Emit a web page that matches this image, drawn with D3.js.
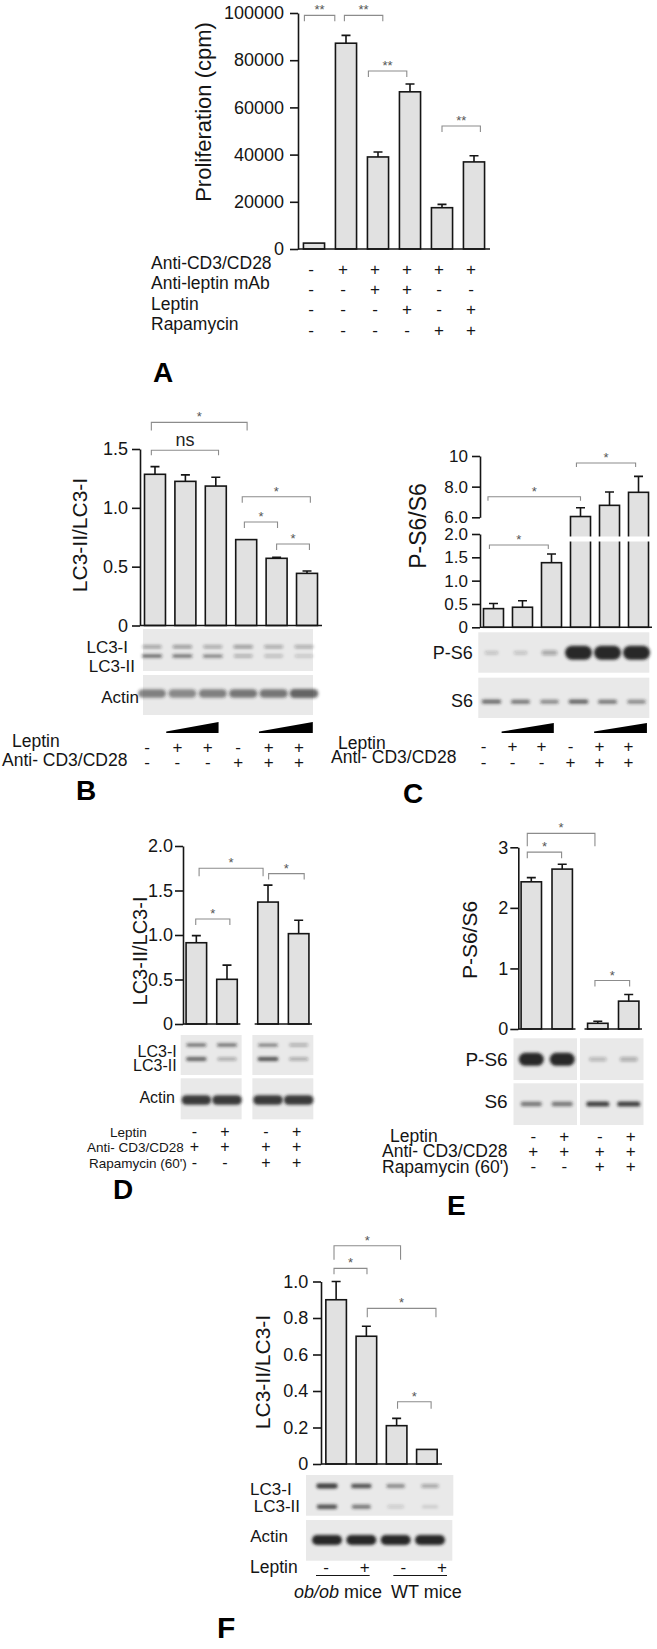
<!DOCTYPE html>
<html>
<head>
<meta charset="utf-8">
<script src="https://cdn.jsdelivr.net/npm/d3@7"></script>
<style>
  body { margin: 0; background: #fff; }
  svg { display: block; }
</style>
</head>
<body>
<script>
// ---------- values ----------

// A: proliferation (cpm)
var aValues = [2500, 87200, 39000, 66600, 17500, 36900];
var aErrors = [0, 3300, 2100, 3300, 1400, 2600];
var aTicks = [0, 20000, 40000, 60000, 80000, 100000];
var aRowLabels = ["Anti-CD3/CD28", "Anti-leptin mAb", "Leptin", "Rapamycin"];
var aRows = [
  ["-", "+", "+", "+", "+", "+"],
  ["-", "-", "+", "+", "-", "-"],
  ["-", "-", "-", "+", "-", "+"],
  ["-", "-", "-", "-", "+", "+"]
];
// brackets: [from lane, to lane, height in axis units, label]
var aBrackets = [[-0.3, 0.65, 99000, "**"], [0.95, 2.15, 99000, "**"], [1.7, 2.9, 75400, "**"], [4.0, 5.2, 52100, "**"]];

// B: LC3-II/LC3-I
var bValues = [1.285, 1.225, 1.185, 0.73, 0.571, 0.443];
var bErrors = [0.065, 0.055, 0.075, 0, 0.008, 0.02];
var bTicks = [0, 0.5, 1.0, 1.5];
var bBrackets = [[-0.12, 3.03, 1.726, "*"], [-0.12, 2.09, 1.49, "ns"], [2.87, 5.11, 1.094, "*"], [2.94, 4.03, 0.879, "*"], [4.0, 5.08, 0.692, "*"]];
var bLC3I = [0.35, 0.4, 0.3, 0.4, 0.3, 0.28];
var bLC3II = [0.6, 0.55, 0.5, 0.25, 0.18, 0.15];
var bActin = [0.5, 0.45, 0.5, 0.55, 0.55, 0.65];
var bcRowLabels = ["Leptin", "Anti- CD3/CD28"];
var bcRows = [
  ["-", "+", "+", "-", "+", "+"],
  ["-", "-", "-", "+", "+", "+"]
];

// C: P-S6/S6 (broken axis)
var cValues = [0.40, 0.43, 1.385, 6.05, 6.78, 7.63];
var cErrors = [0.11, 0.14, 0.185, 0.57, 0.87, 1.04];
var cTicksLow = [0, 0.5, 1.0, 1.5, 2.0];
var cTicksHigh = [6, 8, 10];
var cBrackets = [[-0.14, 1.89, 1.765, "*"], [-0.19, 3.0, 7.34, "*"], [2.86, 4.9, 9.54, "*"]];
var cPS6 = [0.12, 0.12, 0.25, 1, 1, 1];
var cS6 = [0.6, 0.55, 0.45, 0.65, 0.55, 0.45];

// D: LC3-II/LC3-I with rapamycin
var deGroups = ["Rapamycin -", "Rapamycin +"];
var dValues = [0.913, 0.502, 1.37, 1.015];
var dErrors = [0.08, 0.16, 0.19, 0.15];
var dTicks = [0, 0.5, 1.0, 1.5, 2.0];
var dBrackets = [[-0.02, 1.07, 1.18, "*"], [0.09, 1.88, 1.75, "*"], [2.02, 3.18, 1.69, "*"]];
var dLC3I = [0.55, 0.55, 0.5, 0.25];
var dLC3II = [0.65, 0.3, 0.75, 0.3];
var dActin = [0.9, 0.9, 0.9, 0.9];
var deRowLabels = ["Leptin", "Anti- CD3/CD28", "Rapamycin (60')"];
var deRows = [
  ["-", "+", "-", "+"],
  ["+", "+", "+", "+"],
  ["-", "-", "+", "+"]
];

// E: P-S6/S6 with rapamycin
var eValues = [2.43, 2.64, 0.094, 0.46];
var eErrors = [0.07, 0.08, 0.035, 0.11];
var eTicks = [0, 1, 2, 3];
var eBrackets = [[-0.13, 0.98, 2.92, "*"], [-0.13, 1.92, 3.23, "*"], [1.92, 3.03, 0.80, "*"]];
var ePS6 = [1, 1, 0.18, 0.22];
var eS6 = [0.55, 0.55, 0.85, 0.85];

// F: ob/ob vs WT mice
var fValues = [0.90, 0.70, 0.21, 0.08];
var fErrors = [0.10, 0.055, 0.04, 0];
var fTicks = [0, 0.2, 0.4, 0.6, 0.8, 1.0];
var fBrackets = [[-0.07, 2.13, 1.196, "*"], [-0.07, 1.02, 1.072, "*"], [1.03, 3.3, 0.853, "*"], [2.03, 3.14, 0.341, "*"]];
var fLC3I = [0.9, 0.75, 0.45, 0.3];
var fLC3II = [0.75, 0.55, 0.08, 0.05];
var fActin = [1, 1, 1, 1];
var fLeptin = ["-", "+", "-", "+"];
var fGroups = ["ob/ob", "WT"];

// ---------- drawing helpers ----------
var FONT = '"Liberation Sans", Arial, Helvetica, sans-serif';
var INK = "#151515";

var svg = d3.select("body").append("svg")
    .attr("width", 657)
    .attr("height", 1649)
    .attr("font-family", FONT);
svg.append("rect").attr("width", 657).attr("height", 1649).attr("fill", "#fff");

var filt = svg.append("defs").append("filter").attr("id", "blur")
    .attr("x", "-30%").attr("y", "-150%").attr("width", "160%").attr("height", "400%");
filt.append("feGaussianBlur").attr("stdDeviation", 1.4);

function fmt1(d) { return d === 0 ? "0" : d3.format(".1f")(d); }

function centersOf(band, n) {
  return d3.range(n).map(function(i) { return band(i) + band.bandwidth() / 2; });
}
function laneScale(centers) {
  // fractional lane index -> pixel (used for brackets / wedges / tables)
  return d3.scaleLinear().domain(d3.range(centers.length)).range(centers);
}

function leftAxis(x, y, ticks, format, size, pad) {
  var g = svg.append("g")
      .attr("transform", "translate(" + x + ",0)")
      .call(d3.axisLeft(y).tickValues(ticks).tickFormat(format).tickSize(8).tickSizeOuter(0).tickPadding(pad));
  g.attr("font-family", FONT).attr("font-size", size);
  g.select(".domain").attr("stroke", INK).attr("stroke-width", 1.6);
  g.selectAll(".tick line").attr("stroke", INK).attr("stroke-width", 1.6);
  g.selectAll(".tick text").attr("fill", INK);
  return g;
}

function hLine(x0, x1, y) {
  svg.append("line").attr("x1", x0).attr("x2", x1).attr("y1", y).attr("y2", y)
    .attr("stroke", INK).attr("stroke-width", 1.6);
}

function drawBars(cx, bw, y, values, errors) {
  var g = svg.append("g");
  g.selectAll("rect").data(values).enter().append("rect")
    .attr("x", function(d, i) { return cx(i) - bw / 2; })
    .attr("y", function(d) { return y(d); })
    .attr("width", bw)
    .attr("height", function(d) { return y(0) - y(d); })
    .attr("fill", "#e1e1e1")
    .attr("stroke", INK)
    .attr("stroke-width", 1.6);
  var errs = values.map(function(v, i) { return {i: i, v: v, e: errors[i]}; })
                   .filter(function(d) { return d.e > 0; });
  g.selectAll("path").data(errs).enter().append("path")
    .attr("d", function(d) {
      var x = cx(d.i), y0 = y(d.v), y1 = y(d.v + d.e);
      return "M" + x + "," + y0 + "V" + y1 + "M" + (x - 4.5) + "," + y1 + "H" + (x + 4.5);
    })
    .attr("fill", "none").attr("stroke", INK).attr("stroke-width", 1.6);
  return g;
}

function drawBrackets(lane, y, list, legs) {
  var g = svg.append("g");
  list.forEach(function(b, k) {
    var x0 = lane(b[0]), x1 = lane(b[1]), yy = y(b[2]), leg = legs[k];
    g.append("path")
      .attr("d", "M" + x0 + "," + (yy + leg) + "V" + yy + "H" + x1 + "V" + (yy + leg))
      .attr("fill", "none").attr("stroke", "#8c8c8c").attr("stroke-width", 1.1);
    var ns = b[3] === "ns";
    g.append("text")
      .attr("x", (x0 + x1) / 2)
      .attr("y", ns ? yy - 4 : yy - 1)
      .attr("text-anchor", "middle")
      .attr("font-size", ns ? 18 : 13)
      .attr("fill", ns ? "#222" : "#555")
      .text(b[3]);
  });
}

function blotBox(x0, x1, y0, y1) {
  svg.append("rect").attr("x", x0).attr("y", y0).attr("width", x1 - x0).attr("height", y1 - y0)
    .attr("fill", "#e9e9e9");
}

function drawBands(cx, yc, values, wr, hr) {
  var w = d3.scaleLinear().domain([0, 1]).range(wr);
  var h = d3.scaleLinear().domain([0, 1]).range(hr);
  svg.append("g").selectAll("rect").data(values).enter().append("rect")
    .attr("x", function(d, i) { return cx(i) - w(d) / 2; })
    .attr("y", function(d) { return yc - h(d) / 2; })
    .attr("width", function(d) { return w(d); })
    .attr("height", function(d) { return h(d); })
    .attr("rx", function(d) { return h(d) / 2; })
    .attr("fill", "#1c1c1c")
    .attr("fill-opacity", function(d) { return 0.1 + 0.85 * d; })
    .attr("filter", "url(#blur)");
}

function text(x, y, s, size, anchor, extra) {
  var t = svg.append("text").attr("x", x).attr("y", y).attr("font-size", size)
    .attr("fill", INK).attr("text-anchor", anchor || "start").text(s);
  if (extra) extra(t);
  return t;
}

function yTitle(cx, cy, s, size) {
  svg.append("text")
    .attr("transform", "translate(" + cx + "," + cy + ") rotate(-90)")
    .attr("text-anchor", "middle")
    .attr("dy", "0.35em")
    .attr("font-size", size)
    .attr("fill", INK)
    .text(s);
}

function panelLetter(x, y, s, size) {
  text(x, y, s, size || 28, "start", function(t) { t.attr("font-weight", "bold").attr("fill", "#000"); });
}

function drawTable(labels, rows, labelX, labelY, symX, symY, size, symSize) {
  labels.forEach(function(s, k) { text(labelX[k], labelY[k], s, size); });
  rows.forEach(function(row, k) {
    svg.append("g").selectAll("text").data(row).enter().append("text")
      .attr("x", function(d, i) { return symX(i); })
      .attr("y", symY[k])
      .attr("text-anchor", "middle")
      .attr("font-size", symSize)
      .attr("fill", INK)
      .text(function(d) { return d; });
  });
}

function wedge(x0, x1, yTop, yBot) {
  svg.append("path")
    .attr("d", "M" + x0 + "," + (yBot - 1.5) + "L" + x1 + "," + yTop + "V" + yBot + "H" + x0 + "Z")
    .attr("fill", "#000");
}

// ---------- Panel A ----------
(function() {
  var y = d3.scaleLinear().domain([0, 100000]).range([249, 13]);
  var x = d3.scaleBand().domain(d3.range(aValues.length)).range([298, 490]).paddingInner(0.34).paddingOuter(0.17);
  var centers = centersOf(x, aValues.length);
  var lane = laneScale(centers);
  drawBars(function(i) { return centers[i]; }, x.bandwidth(), y, aValues, aErrors);
  hLine(298, 490, y(0));
  leftAxis(298, y, aTicks, d3.format("d"), 18, 6);
  yTitle(203, 112, "Proliferation (cpm)", 22);
  drawBrackets(lane, y, aBrackets, [6, 6, 6, 6]);
  drawTable(aRowLabels, aRows, [151, 151, 151, 151], [269, 289, 309.5, 330],
    function(i) { return lane(i) - 3; }, [275, 295, 315, 336], 17.5, 17);
  panelLetter(153, 382, "A");
})();

// ---------- Panel B ----------
(function() {
  var y = d3.scaleLinear().domain([0, 1.5]).range([625.5, 449]);
  var x = d3.scaleBand().domain(d3.range(bValues.length)).range([140, 322]).paddingInner(0.31).paddingOuter(0.148);
  var centers = centersOf(x, bValues.length);
  var lane = laneScale(centers);
  drawBars(function(i) { return centers[i]; }, x.bandwidth(), y, bValues, bErrors);
  hLine(140, 322, y(0));
  leftAxis(140, y, bTicks, fmt1, 18, 4);
  yTitle(80, 535, "LC3-II/LC3-I", 21);
  drawBrackets(lane, y, bBrackets, [8, 5, 6, 6, 6]);

  var bx0 = x.range()[0] + 3, bx1 = x.range()[1] - 9;
  blotBox(bx0, bx1, 629, 671);
  blotBox(bx0, bx1, 675, 715);
  var bandX = function(i) { return centers[i] - 3; };
  drawBands(bandX, 646.7, bLC3I, [18, 22], [2.5, 4]);
  drawBands(bandX, 656, bLC3II, [18, 22], [2.5, 4]);
  drawBands(bandX, 693.5, bActin, [26, 30], [7, 10]);
  text(128, 653, "LC3-I", 17, "end");
  text(135, 672, "LC3-II", 17, "end");
  text(139, 703, "Actin", 17, "end");

  wedge(lane(0.37), lane(2.09), 722, 733);
  wedge(lane(3.42), lane(5.19), 722, 733);
  drawTable(bcRowLabels, bcRows, [12, 2], [746.5, 765.5],
    function(i) { return lane(i) - 8; }, [752.5, 767.5], 17.5, 17);
  panelLetter(76, 800, "B");
})();

// ---------- Panel C ----------
(function() {
  var yLow = d3.scaleLinear().domain([0, 2]).range([627.3, 534]);
  var yHigh = d3.scaleLinear().domain([6, 10]).range([517.3, 456]);
  var y = d3.scaleLinear().domain([0, 2, 6, 10]).range([627.3, 534, 517.3, 456]);
  var x = d3.scaleBand().domain(d3.range(cValues.length)).range([480, 652]).paddingInner(0.31).paddingOuter(0.12);
  var centers = centersOf(x, cValues.length);
  var lane = laneScale(centers);
  drawBars(function(i) { return centers[i]; }, x.bandwidth(), y, cValues, cErrors);
  // white break stripe across the tall bars
  svg.append("g").selectAll("rect")
    .data(cValues.map(function(v, i) { return {v: v, i: i}; }).filter(function(d) { return d.v > 2; }))
    .enter().append("rect")
    .attr("x", function(d) { return centers[d.i] - x.bandwidth() / 2 - 2; })
    .attr("y", yLow(2) + 2.5)
    .attr("width", x.bandwidth() + 4)
    .attr("height", 5)
    .attr("fill", "#fff");
  hLine(480, 652, y(0));
  leftAxis(480, yLow, cTicksLow, fmt1, 17, 4);
  leftAxis(480, yHigh, cTicksHigh, function(d) { return d === 10 ? "10" : d3.format(".1f")(d); }, 17, 4);
  yTitle(418, 526, "P-S6/S6", 23);
  drawBrackets(lane, y, cBrackets, [4, 4, 4]);

  var bx0 = x.range()[0] - 1.7, bx1 = x.range()[1] - 2.7;
  blotBox(bx0, bx1, 632.3, 672.7);
  blotBox(bx0, bx1, 677.7, 718);
  var bandX = function(i) { return centers[i] - 2; };
  drawBands(bandX, 652.7, cPS6, [12, 27], [2, 14]);
  drawBands(bandX, 701.7, cS6, [16, 22], [3, 5]);
  text(472.7, 658.5, "P-S6", 18, "end");
  text(473, 706.5, "S6", 18, "end");

  wedge(lane(0.28), lane(2.08), 723, 733);
  wedge(lane(3.47), lane(5.29), 723, 733);
  drawTable(bcRowLabels, bcRows, [338, 331], [749, 763],
    function(i) { return lane(i) - 10; }, [752, 768], 17.5, 17);
  panelLetter(403, 803, "C");
})();

// grouped x positions for D and E
function groupedCenters(range, outerPad, innerPad, innerOuter) {
  var outer = d3.scaleBand().domain(deGroups).range(range).paddingInner(outerPad).paddingOuter(0);
  var inner = d3.scaleBand().domain([0, 1]).range([0, outer.bandwidth()]).paddingInner(innerPad).paddingOuter(innerOuter);
  var centers = [];
  deGroups.forEach(function(g) {
    [0, 1].forEach(function(k) { centers.push(outer(g) + inner(k) + inner.bandwidth() / 2); });
  });
  return {outer: outer, inner: inner, centers: centers};
}

// ---------- Panel D ----------
(function() {
  var y = d3.scaleLinear().domain([0, 2]).range([1024, 846]);
  var gx = groupedCenters([183, 312], 0.2, 0.33, 0.1);
  var centers = gx.centers, lane = laneScale(centers), bw = gx.inner.bandwidth();
  drawBars(function(i) { return centers[i]; }, bw, y, dValues, dErrors);
  deGroups.forEach(function(g) {
    var x0 = gx.outer(g), x1 = x0 + gx.outer.bandwidth();
    hLine(x0, x1, y(0));
    blotBox(x0 - 2.3, x1 + 1.3, 1035, 1075);
    blotBox(x0 - 2.3, x1 + 1.3, 1078.3, 1119.3);
  });
  leftAxis(183, y, dTicks, fmt1, 18, 2);
  yTitle(140, 951, "LC3-II/LC3-I", 20);
  drawBrackets(lane, y, dBrackets, [6, 8, 6]);

  var bandX = function(i) { return centers[i]; };
  drawBands(bandX, 1045, dLC3I, [18, 22], [2.5, 4]);
  drawBands(bandX, 1059, dLC3II, [18, 22], [2.5, 4.5]);
  drawBands(bandX, 1100, dActin, [26, 30], [7, 10]);
  text(176.7, 1057, "LC3-I", 16, "end");
  text(176.7, 1071, "LC3-II", 16, "end");
  text(175, 1103, "Actin", 16, "end");

  drawTable(deRowLabels, deRows, [110, 87, 89], [1137, 1152, 1167.5],
    function(i) { return lane(i) - 2; }, [1137, 1152, 1167.5], 13.5, 16);
  panelLetter(113, 1199, "D");
})();

// ---------- Panel E ----------
(function() {
  var y = d3.scaleLinear().domain([0, 3]).range([1029, 847.3]);
  var gx = groupedCenters([518, 642], 0.135, 0.34, 0.1);
  var centers = gx.centers, lane = laneScale(centers), bw = gx.inner.bandwidth();
  drawBars(function(i) { return centers[i]; }, bw, y, eValues, eErrors);
  deGroups.forEach(function(g) {
    var x0 = gx.outer(g), x1 = x0 + gx.outer.bandwidth();
    hLine(x0, x1, y(0));
    blotBox(x0 - 4.5, x1 + 1.5, 1038.3, 1080);
    blotBox(x0 - 4.5, x1 + 1.5, 1083.3, 1125);
  });
  leftAxis(518.3, y, eTicks, d3.format("d"), 18, 2);
  yTitle(469.3, 940, "P-S6/S6", 21);
  drawBrackets(lane, y, eBrackets, [6, 13, 6]);

  var bandX = function(i) { return centers[i]; };
  drawBands(bandX, 1059.3, ePS6, [16, 25], [2, 13]);
  drawBands(bandX, 1104, eS6, [18, 24], [3, 5.5]);
  text(507.7, 1065.5, "P-S6", 19, "end");
  text(507.7, 1108, "S6", 19, "end");

  drawTable(deRowLabels, deRows, [390, 382, 382], [1141.5, 1156.5, 1173],
    function(i) { return lane(i) + 2; }, [1142, 1156.5, 1172], 17.5, 17);
  panelLetter(447, 1215, "E");
})();

// ---------- Panel F ----------
(function() {
  var y = d3.scaleLinear().domain([0, 1]).range([1464, 1281.5]);
  var x = d3.scaleBand().domain(d3.range(fValues.length)).range([321, 442]).paddingInner(0.32).paddingOuter(0.16);
  var centers = centersOf(x, fValues.length);
  var lane = laneScale(centers);
  drawBars(function(i) { return centers[i]; }, x.bandwidth(), y, fValues, fErrors);
  hLine(321, 442, y(0));
  leftAxis(321, y, fTicks, fmt1, 18, 4.7);
  yTitle(263, 1372, "LC3-II/LC3-I", 21);
  drawBrackets(lane, y, fBrackets, [14, 6, 9, 7]);

  blotBox(306, 453.3, 1475, 1515.7);
  blotBox(306, 452.3, 1520, 1560.7);
  var bandX = d3.scalePoint().domain(d3.range(4)).range([327, 430]);
  drawBands(bandX, 1486, fLC3I, [16, 22], [3, 5]);
  drawBands(bandX, 1506.7, fLC3II, [16, 22], [3, 5]);
  drawBands(bandX, 1540, fActin, [26, 30], [8, 10]);
  text(291.7, 1494.5, "LC3-I", 17, "end");
  text(300, 1512, "LC3-II", 17, "end");
  text(288, 1541.5, "Actin", 17, "end");

  var tx = d3.scalePoint().domain(d3.range(4)).range([326, 442]);
  drawTable(["Leptin"], [fLeptin], [250], [1573], tx, [1573], 17.5, 17);
  svg.append("g").selectAll("line").data(fGroups).enter().append("line")
    .attr("x1", function(d, k) { return tx(2 * k) - 10; })
    .attr("x2", function(d, k) { return tx(2 * k + 1) + 5; })
    .attr("y1", 1575.5).attr("y2", 1575.5)
    .attr("stroke", INK).attr("stroke-width", 1.2);
  var lbl = svg.append("text").attr("y", 1598).attr("font-size", 18).attr("fill", INK);
  lbl.append("tspan").attr("x", 294).attr("font-style", "italic").text(fGroups[0]);
  lbl.append("tspan").text(" mice");
  text(391, 1598, fGroups[1] + " mice", 18);
  panelLetter(217, 1638, "F", 30);
})();
</script>
</body>
</html>
